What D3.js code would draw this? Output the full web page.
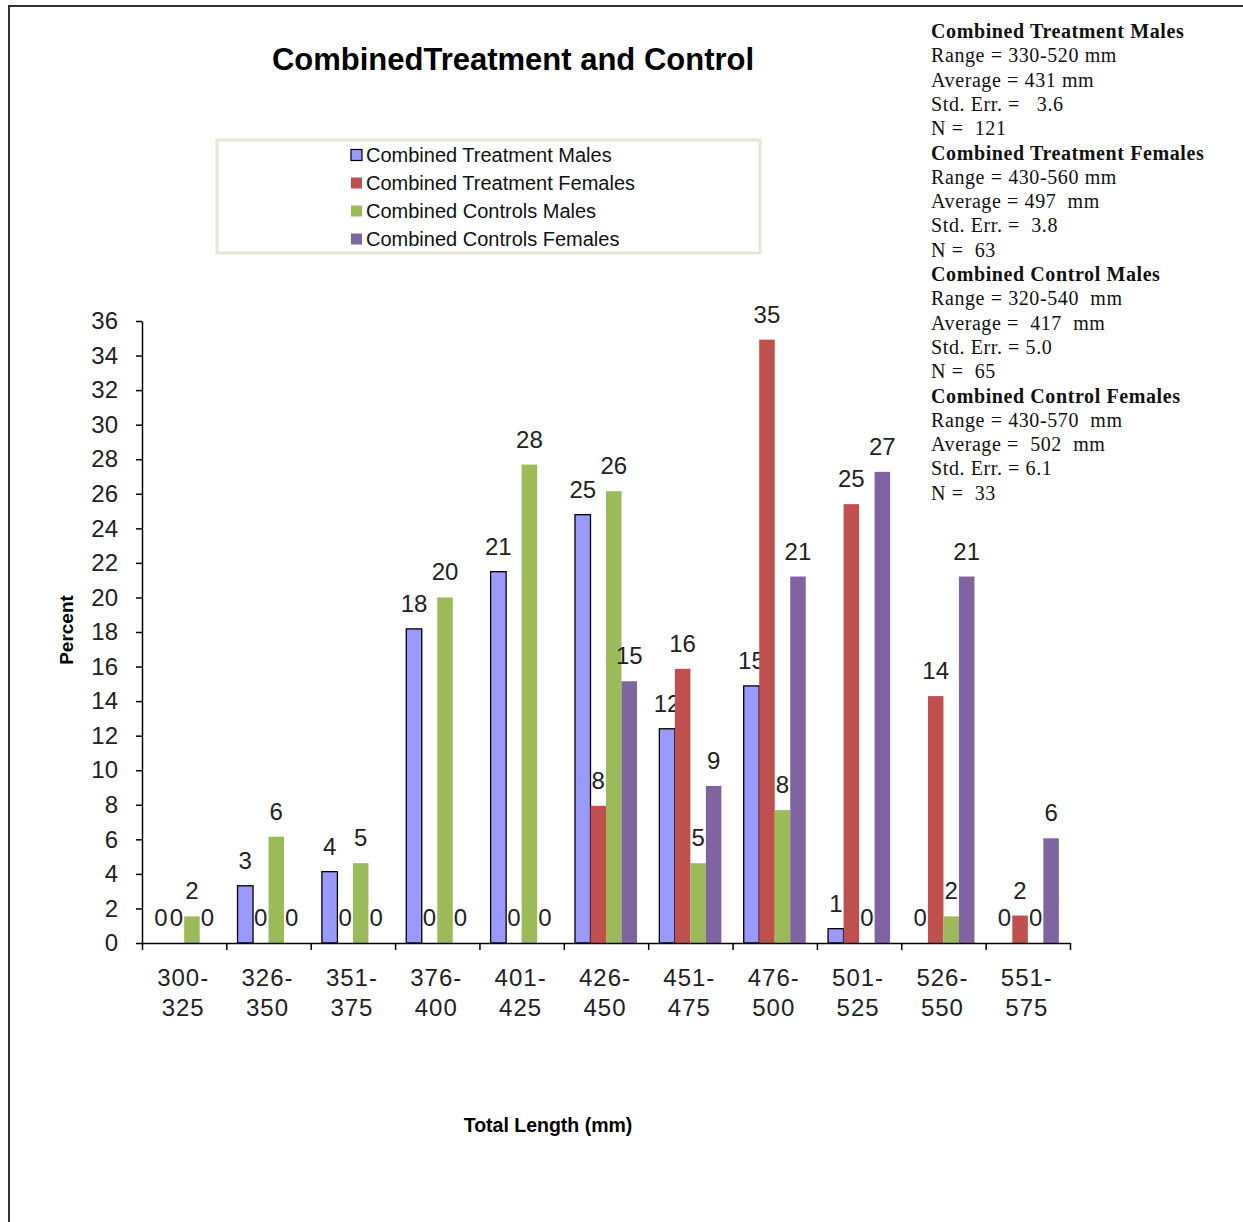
<!DOCTYPE html>
<html>
<head>
<meta charset="utf-8">
<script src="https://cdn.jsdelivr.net/npm/d3@7"></script>
<style>
  html, body { margin: 0; padding: 0; background: #fff; }
  svg { display: block; }
</style>
</head>
<body>
<svg id="chart" width="1243" height="1222"></svg>
<script>
// Total length classes (mm)
const categories = ["300-325", "326-350", "351-375", "376-400", "401-425", "426-450",
                    "451-475", "476-500", "501-525", "526-550", "551-575"];

const seriesNames = ["Combined Treatment Males", "Combined Treatment Females",
                     "Combined Controls Males", "Combined Controls Females"];
const seriesColors = ["#9999FF", "#C0504D", "#9BBB59", "#8064A2"];

// Percent of fish in each length class
const treatmentMales   = [0, 3.31, 4.13, 18.18, 21.49, 24.79, 12.40, 14.88, 0.83, 0, 0];
const treatmentFemales = [0, 0, 0, 0, 0, 7.94, 15.87, 34.92, 25.40, 14.29, 1.59];
const controlMales     = [1.54, 6.15, 4.62, 20.00, 27.69, 26.15, 4.62, 7.69, 0, 1.54, 0];
const controlFemales   = [0, 0, 0, 0, 0, 15.15, 9.09, 21.21, 27.27, 21.21, 6.06];

const yTicks = d3.range(0, 37, 2);

// Summary statistics block
const statsLines = [
  { text: "Combined Treatment Males", bold: true },
  { text: "Range = 330-520 mm" },
  { text: "Average = 431 mm" },
  { text: "Std. Err. =   3.6" },
  { text: "N =  121" },
  { text: "Combined Treatment Females", bold: true },
  { text: "Range = 430-560 mm" },
  { text: "Average = 497  mm" },
  { text: "Std. Err. =  3.8" },
  { text: "N =  63" },
  { text: "Combined Control Males", bold: true },
  { text: "Range = 320-540  mm" },
  { text: "Average =  417  mm" },
  { text: "Std. Err. = 5.0" },
  { text: "N =  65" },
  { text: "Combined Control Females", bold: true },
  { text: "Range = 430-570  mm" },
  { text: "Average =  502  mm" },
  { text: "Std. Err. = 6.1" },
  { text: "N =  33" }
];

const seriesValues = [treatmentMales, treatmentFemales, controlMales, controlFemales];

const svg = d3.select("#chart");
const sans = "'Liberation Sans', Arial, sans-serif";
const serif = "'Liberation Serif', 'Times New Roman', serif";

// Outer frame
svg.append("path")
  .attr("d", "M9,1222 V6 H1243")
  .attr("fill", "none")
  .attr("stroke", "#333")
  .attr("stroke-width", 2);

// Title
svg.append("text")
  .attr("x", 513).attr("y", 70)
  .attr("text-anchor", "middle")
  .attr("font-family", sans)
  .attr("font-weight", "bold")
  .attr("font-size", 31)
  .text("CombinedTreatment and Control");

// Plot geometry
const plot = { left: 142, right: 1070, top: 321, bottom: 943 };

const x0 = d3.scaleBand().domain(categories).range([plot.left, plot.right]).padding(0);
const x1 = d3.scaleBand().domain(d3.range(seriesNames.length))
  .range([0, x0.bandwidth()]).paddingInner(0).paddingOuter(0.72);
const y = d3.scaleLinear().domain([0, 36]).range([plot.bottom, plot.top]);
const xEdge = d3.scaleLinear().domain([0, categories.length]).range([plot.left, plot.right]);

// Bars
const groups = svg.append("g").selectAll("g")
  .data(categories)
  .join("g")
  .attr("transform", d => `translate(${x0(d)},0)`);

const cells = groups.selectAll("g.cell")
  .data((c, i) => seriesValues.map((vals, s) => ({ s, v: vals[i] })))
  .join("g").attr("class", "cell");

cells.filter(d => d.v > 0).append("rect")
  .attr("x", d => x1(d.s))
  .attr("y", d => y(d.v))
  .attr("width", x1.bandwidth())
  .attr("height", d => y(0) - y(d.v))
  .attr("fill", d => seriesColors[d.s])
  .attr("stroke", d => d.s === 0 ? "#000" : "none")
  .attr("stroke-width", 1.3);

// Value labels
const fmt = d3.format(".0f");
cells.append("text")
  .attr("x", d => x1(d.s) + x1.bandwidth() / 2)
  .attr("y", d => y(d.v) - 17)
  .attr("text-anchor", "middle")
  .attr("font-family", sans)
  .attr("font-size", 24)
  .attr("fill", "#222")
  .text(d => fmt(d.v));

// Y axis
const yAxis = svg.append("g")
  .attr("transform", `translate(${plot.left},0)`)
  .call(d3.axisLeft(y).tickValues(yTicks).tickSize(6).tickPadding(18).tickSizeOuter(0));
yAxis.select(".domain").attr("stroke", "#000").attr("stroke-width", 1.5);
yAxis.selectAll(".tick line").attr("stroke", "#000").attr("stroke-width", 1.5);
yAxis.selectAll(".tick text")
  .attr("font-family", sans).attr("font-size", 24).attr("fill", "#222");

// X axis with ticks at class boundaries
const xAxis = svg.append("g")
  .attr("transform", `translate(0,${plot.bottom})`)
  .call(d3.axisBottom(xEdge).tickValues(d3.range(categories.length + 1))
    .tickFormat("").tickSize(7).tickSizeOuter(0));
xAxis.select(".domain").attr("stroke", "#000").attr("stroke-width", 1.5);
xAxis.selectAll(".tick line").attr("stroke", "#000").attr("stroke-width", 1.5);

// Category labels on two lines
const catLabels = svg.append("g").selectAll("text")
  .data(categories)
  .join("text")
  .attr("x", d => x0(d) + x0.bandwidth() / 2)
  .attr("y", 986)
  .attr("text-anchor", "middle")
  .attr("font-family", sans)
  .attr("font-size", 24)
  .attr("letter-spacing", 1)
  .attr("fill", "#222");
catLabels.append("tspan")
  .attr("x", d => x0(d) + x0.bandwidth() / 2 - 1)
  .text(d => d.split("-")[0] + "-");
catLabels.append("tspan")
  .attr("x", d => x0(d) + x0.bandwidth() / 2 - 1)
  .attr("dy", 30)
  .text(d => d.split("-")[1]);

// Axis titles
svg.append("text")
  .attr("transform", "translate(73,630) rotate(-90)")
  .attr("text-anchor", "middle")
  .attr("font-family", sans)
  .attr("font-weight", "bold")
  .attr("font-size", 19)
  .text("Percent");

svg.append("text")
  .attr("x", 548).attr("y", 1132)
  .attr("text-anchor", "middle")
  .attr("font-family", sans)
  .attr("font-weight", "bold")
  .attr("font-size", 19.5)
  .text("Total Length (mm)");

// Legend
const legend = svg.append("g");
legend.append("rect")
  .attr("x", 217).attr("y", 140).attr("width", 543).attr("height", 113)
  .attr("fill", "#fff").attr("stroke", "#e3e8d5").attr("stroke-width", 3);
const legItems = legend.selectAll("g.item")
  .data(seriesNames)
  .join("g").attr("class", "item")
  .attr("transform", (d, i) => `translate(351,${155 + i * 28})`);
legItems.append("rect")
  .attr("x", 0).attr("y", -5.5).attr("width", 11).attr("height", 11)
  .attr("fill", (d, i) => seriesColors[i])
  .attr("stroke", (d, i) => i === 0 ? "#000" : "none")
  .attr("stroke-width", 1.2);
legItems.append("text")
  .attr("x", 15).attr("y", 7)
  .attr("font-family", sans)
  .attr("font-size", 20)
  .attr("fill", "#111")
  .text(d => d);

// Statistics text
svg.append("g").selectAll("text")
  .data(statsLines)
  .join("text")
  .attr("x", 931)
  .attr("y", (d, i) => 38 + i * 24.3)
  .attr("font-family", serif)
  .attr("font-size", 20)
  .attr("font-weight", d => d.bold ? "bold" : "normal")
  .attr("letter-spacing", 0.6)
  .attr("xml:space", "preserve")
  .style("white-space", "pre")
  .attr("fill", "#111")
  .text(d => d.text);
</script>
</body>
</html>
